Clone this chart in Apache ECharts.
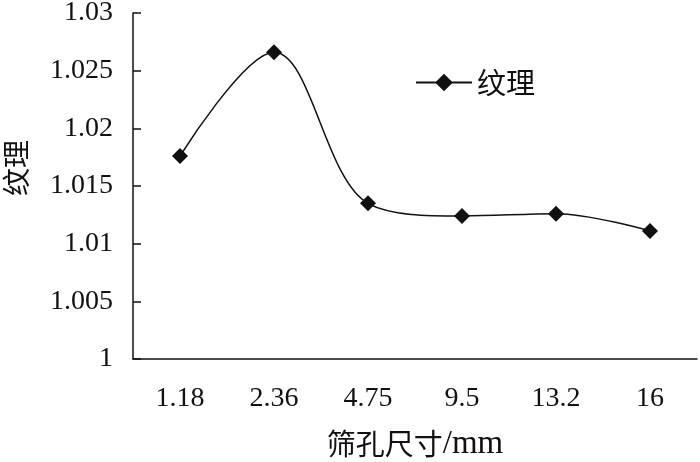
<!DOCTYPE html>
<html><head><meta charset="utf-8">
<script src="https://cdn.jsdelivr.net/npm/echarts@6/dist/echarts.min.js"></script>
<style>html,body{margin:0;padding:0;background:#fff}#c{width:700px;height:462px}</style>
</head><body><div id="c"></div>
<script>
const categories = ['1.18', '2.36', '4.75', '9.5', '13.2', '16'];
const values = [1.0176, 1.0266, 1.0135, 1.0124, 1.0126, 1.0111];
const seriesName = '纹理';
const xNameCn = '筛孔尺寸';
const xNameUnit = '/mm';
const yName = '纹理';
const yMin = 1, yMax = 1.03, yStep = 0.005;

const font = '"Liberation Serif","Times New Roman","Noto Sans CJK SC",serif';
const cjk = '"Noto Sans CJK SC",sans-serif';
const chart = echarts.init(document.getElementById('c'));
chart.setOption({
  animation: false,
  grid: {left: 133, right: 3, top: 13, bottom: 103, outerBoundsMode: 'none', containLabel: false},
  legend: {
    data: [seriesName], left: 410, top: 63, itemWidth: 56, itemHeight: 22, itemGap: 8,
    textStyle: {fontFamily: cjk, fontSize: 29, color: '#111'}
  },
  xAxis: {
    type: 'category', data: categories, boundaryGap: true,
    name: '{a|' + xNameCn + '}{b|' + xNameUnit + '}', nameLocation: 'middle', nameGap: 68,
    nameTextStyle: {color: '#111', lineHeight: 34, rich: {
      a: {fontFamily: cjk, fontSize: 29, color: '#111', lineHeight: 34},
      b: {fontFamily: font, fontSize: 33, color: '#111', lineHeight: 34}
    }},
    axisLine: {lineStyle: {color: '#111', width: 1.5}},
    axisTick: {inside: true, length: 8, lineStyle: {color: '#111', width: 1.5}},
    axisLabel: {fontFamily: font, fontSize: 28, color: '#111', margin: 26}
  },
  yAxis: {
    type: 'value', min: yMin, max: yMax, interval: yStep,
    splitLine: {show: false},
    axisLine: {show: true, lineStyle: {color: '#111', width: 1.5}},
    axisTick: {show: true, inside: true, length: 8, lineStyle: {color: '#111', width: 1.5}},
    axisLabel: {fontFamily: font, fontSize: 28, color: '#111', margin: 20,
      formatter: v => String(+v.toFixed(3))}
  },
  graphic: [{
    type: 'text', x: 16, y: 168, rotation: Math.PI / 2,
    style: {text: yName, font: '28px ' + cjk, fill: '#111', align: 'center', verticalAlign: 'middle'}
  }],
  series: [{
    name: seriesName, type: 'line', data: values, smooth: 0.35,
    symbol: 'diamond', symbolSize: 16,
    itemStyle: {color: '#111'},
    lineStyle: {color: '#111', width: 1.5}
  }]
});
</script></body></html>
